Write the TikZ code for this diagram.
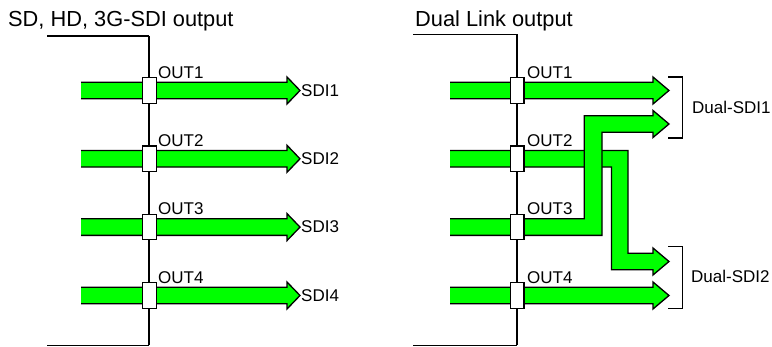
\documentclass[tikz,border=0pt]{standalone}
\usepackage{fontspec}
\setmainfont{Liberation Sans}
\begin{document}
\begin{tikzpicture}[x=1pt,y=-1pt,
  band/.style={fill=sdigreen,draw=black,line width=1.3pt,line join=miter},
  conn/.style={draw=black,fill=white,line width=1.2pt,minimum width=13.5pt,minimum height=25.5pt,inner sep=0pt},
  rail/.style={line width=2.6pt},
  hrail/.style={line width=1.6pt},
  lbl/.style={inner sep=0pt,anchor=base west,font=\fontsize{17}{17}\selectfont},
  ttl/.style={inner sep=0pt,anchor=base west,font=\fontsize{21.8}{21.8}\selectfont},
  brk/.style={line width=1.3pt}]
\definecolor{sdigreen}{RGB}{0,255,0}
\useasboundingbox (0,0) rectangle (772,347);
% titles
\node[ttl] (title1) at (8,26.7) {SD, HD, 3G-SDI output};
\node[ttl] (title2) at (415,26.7) {Dual Link output};
% rails
\coordinate (lt) at (47,36);
\coordinate (ltc) at (149,36);
\coordinate (lbc) at (149,345.5);
\coordinate (lb) at (47,345.5);
\draw[hrail] (lt) -- (ltc);
\draw[hrail] (lbc) -- (lb);
\draw[rail] (ltc) -- (lbc);
\coordinate (rt) at (413,34.5);
\coordinate (rtc) at (517,34.5);
\coordinate (rbc) at (517,345.5);
\coordinate (rb) at (413,345.5);
\draw[hrail] (rt) -- (rtc);
\draw[hrail] (rbc) -- (rb);
\draw[line width=2.2pt] (rtc) -- (rbc);
% left panel arrows
\foreach \i/\c in {1/90.5,2/158.8,3/227.1,4/295.5}{
  \filldraw[band] (81,{\c-8.3}) -- (287,{\c-8.3}) -- (287,{\c-13.5}) -- (300,\c) -- (287,{\c+13.5}) -- (287,{\c+8.3}) -- (81,{\c+8.3});
  \node[conn] (L\i) at (149.5,\c) {};
  \node[lbl] (LO\i) at (158,{\c-12.2}) {OUT\i};
  \node[lbl] (LS\i) at (301,{\c+5.8}) {SDI\i};
}
% right panel arrows
% OUT1 straight
\filldraw[band] (450,{90.5-8.3}) -- (653,{90.5-8.3}) -- (653,{90.5-13.5}) -- (669,90.5) -- (653,{90.5+13.5}) -- (653,{90.5+8.3}) -- (450,{90.5+8.3});
% OUT4 straight
\filldraw[band] (450,{295.5-8.3}) -- (653,{295.5-8.3}) -- (653,{295.5-13.5}) -- (669,295.5) -- (653,{295.5+13.5}) -- (653,{295.5+8.3}) -- (450,{295.5+8.3});
% OUT2 -> down to Dual-SDI2
\filldraw[band] (450,150.5) -- (628,150.5) -- (628,253.2) -- (653,253.2) -- (653,248) -- (669,261.5) -- (653,275) -- (653,269.8) -- (611.5,269.8) -- (611.5,167.1) -- (450,167.1);
% OUT3 -> up to Dual-SDI1
\filldraw[band] (450,218.8) -- (584.3,218.8) -- (584.3,115.7) -- (653,115.7) -- (653,110.5) -- (669,124) -- (653,137.5) -- (653,132.3) -- (602,132.3) -- (602,235.4) -- (450,235.4);
\foreach \i/\c in {1/90.5,2/158.8,3/227.1,4/295.5}{
  \node[conn] (R\i) at (517.3,\c) {};
  \node[lbl] (RO\i) at (527,{\c-12.2}) {OUT\i};
}
% brackets
\draw[brk] (668,77) -- (682.5,77) -- (682.5,138) -- (668,138);
\draw[brk] (668,246.7) -- (682.5,246.7) -- (682.5,308.3) -- (668,308.3);
\node[lbl] (D1) at (692,113.3) {Dual-SDI1};
\node[lbl] (D2) at (691,282.8) {Dual-SDI2};
\end{tikzpicture}
\end{document}
